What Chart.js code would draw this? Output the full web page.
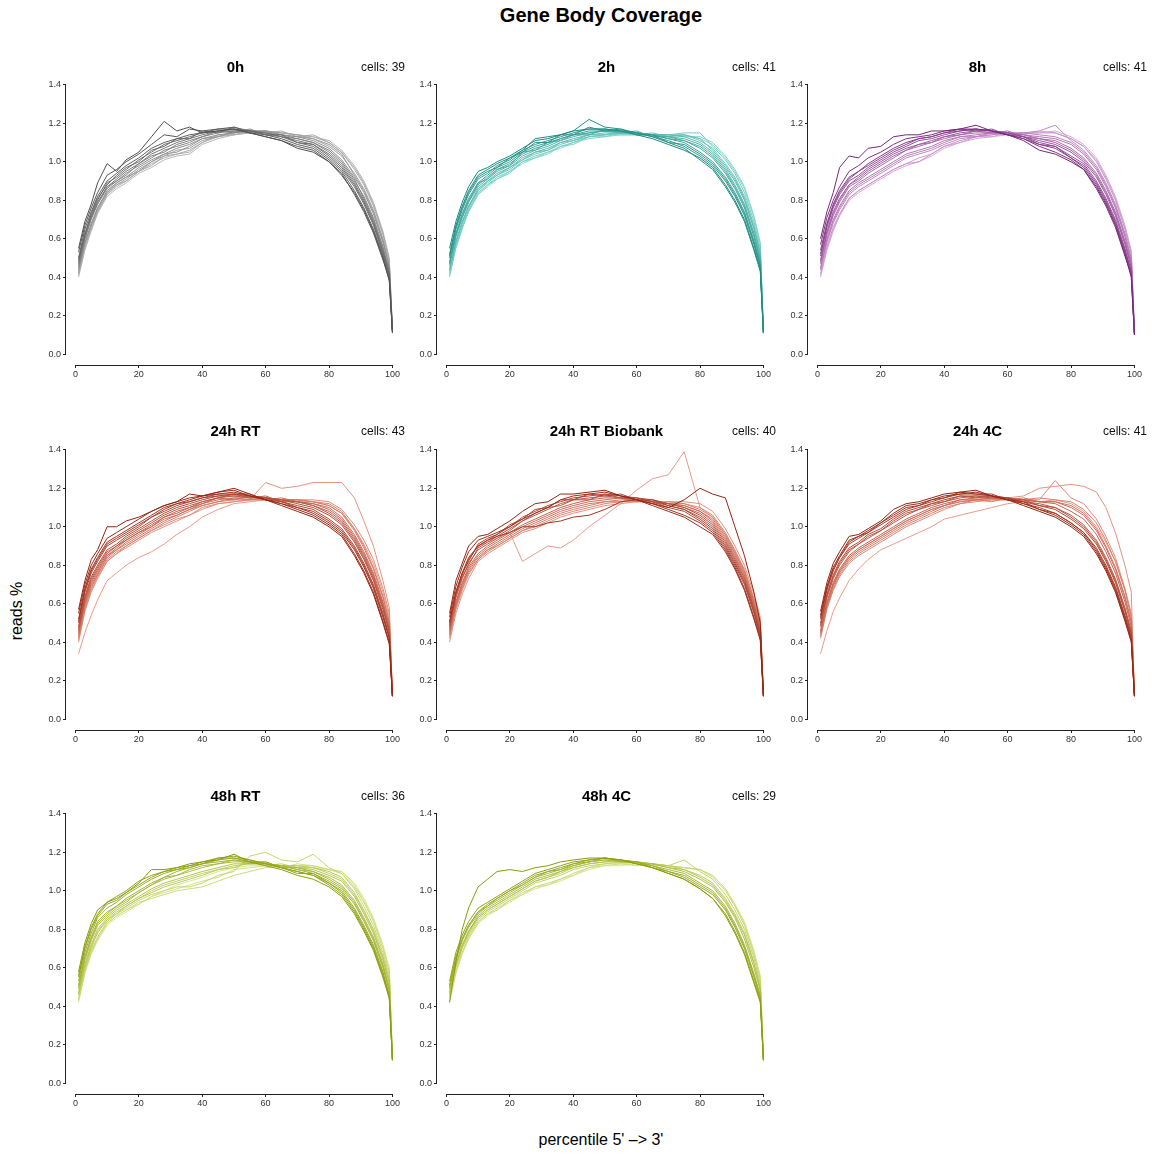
<!DOCTYPE html>
<html><head><meta charset="utf-8">
<script src="https://cdn.jsdelivr.net/npm/chart.js@4.4.0/dist/chart.umd.min.js"></script>
<style>
html,body{margin:0;padding:0;background:#fff;}
#root{position:relative;width:1155px;height:1155px;overflow:hidden;font-family:"Liberation Sans",Arial,Helvetica,sans-serif;}
.t{position:absolute;white-space:nowrap;color:#000;line-height:1;}
canvas{position:absolute;}
</style></head><body><div id="root"></div>
<script>
const percentiles = [1,3,5,7,10,13,16,20,24,28,32,36,40,45,50,55,60,65,70,75,80,84,88,91,94,97,99,100];
const panelNames = ["0h","2h","8h","24h RT","24h RT Biobank","24h 4C","48h RT","48h 4C"];
const cellCounts = [39,41,41,43,40,41,36,29];
const yTickValues = [0,0.2,0.4,0.6,0.8,1.0,1.2,1.4];
const xTickValues = [0,20,40,60,80,100];

const cov0h = [
[0.55,0.69,0.78,0.89,0.99,0.95,1.01,1.05,1.13,1.21,1.16,1.18,1.15,1.16,1.17,1.15,1.13,1.11,1.07,1.05,1.00,0.93,0.84,0.75,0.64,0.50,0.38,0.11],
[0.53,0.67,0.76,0.84,0.93,0.96,1.00,1.04,1.09,1.14,1.13,1.17,1.16,1.17,1.17,1.15,1.13,1.11,1.08,1.06,1.00,0.94,0.83,0.74,0.63,0.49,0.39,0.11],
[0.50,0.65,0.74,0.82,0.90,0.94,0.98,1.02,1.07,1.10,1.12,1.14,1.15,1.17,1.18,1.16,1.14,1.12,1.09,1.07,1.01,0.95,0.85,0.76,0.65,0.51,0.40,0.12],
[0.49,0.62,0.73,0.81,0.88,0.93,0.97,1.00,1.06,1.08,1.12,1.12,1.16,1.15,1.18,1.15,1.14,1.14,1.10,1.09,1.03,0.97,0.88,0.79,0.68,0.53,0.42,0.12],
[0.48,0.63,0.72,0.80,0.89,0.92,0.96,1.01,1.05,1.09,1.11,1.13,1.15,1.16,1.17,1.16,1.15,1.13,1.10,1.08,1.02,0.96,0.87,0.78,0.67,0.52,0.41,0.12],
[0.47,0.61,0.71,0.79,0.87,0.91,0.95,0.99,1.04,1.07,1.10,1.12,1.14,1.16,1.16,1.16,1.15,1.13,1.11,1.09,1.04,0.98,0.89,0.80,0.69,0.54,0.42,0.12],
[0.46,0.60,0.71,0.78,0.87,0.90,0.93,0.99,1.03,1.05,1.09,1.11,1.13,1.16,1.15,1.17,1.14,1.13,1.12,1.10,1.06,1.00,0.91,0.81,0.70,0.55,0.44,0.12],
[0.45,0.60,0.70,0.78,0.86,0.90,0.94,0.98,1.02,1.06,1.08,1.10,1.13,1.15,1.16,1.16,1.15,1.14,1.12,1.10,1.05,0.99,0.90,0.82,0.71,0.56,0.43,0.12],
[0.44,0.58,0.68,0.76,0.85,0.89,0.92,0.97,1.01,1.04,1.07,1.09,1.12,1.14,1.15,1.16,1.16,1.14,1.13,1.11,1.07,1.01,0.92,0.84,0.73,0.58,0.45,0.12],
[0.43,0.58,0.67,0.76,0.84,0.89,0.92,0.95,1.00,1.04,1.05,1.08,1.12,1.13,1.16,1.15,1.16,1.14,1.13,1.12,1.09,1.04,0.93,0.85,0.74,0.59,0.46,0.12],
[0.42,0.57,0.67,0.75,0.84,0.88,0.91,0.96,1.00,1.03,1.06,1.07,1.11,1.13,1.15,1.16,1.16,1.15,1.14,1.12,1.08,1.03,0.94,0.86,0.75,0.60,0.46,0.12],
[0.42,0.56,0.65,0.74,0.83,0.88,0.90,0.95,0.98,1.03,1.04,1.06,1.10,1.14,1.14,1.16,1.15,1.16,1.13,1.14,1.10,1.05,0.97,0.89,0.78,0.63,0.49,0.13],
[0.41,0.55,0.66,0.74,0.83,0.87,0.90,0.95,0.99,1.02,1.04,1.05,1.10,1.13,1.14,1.15,1.16,1.15,1.14,1.13,1.10,1.05,0.96,0.88,0.77,0.62,0.48,0.13],
[0.40,0.54,0.64,0.73,0.82,0.86,0.89,0.94,0.97,1.01,1.03,1.04,1.09,1.12,1.14,1.15,1.15,1.15,1.14,1.13,1.11,1.06,0.98,0.90,0.79,0.64,0.50,0.13]
];
const cov2h = [
[0.55,0.69,0.79,0.87,0.95,0.97,1.00,1.03,1.07,1.11,1.12,1.14,1.16,1.17,1.17,1.16,1.14,1.12,1.09,1.06,1.02,0.97,0.88,0.80,0.70,0.55,0.44,0.11],
[0.52,0.67,0.77,0.85,0.93,0.96,0.99,1.02,1.06,1.12,1.13,1.14,1.16,1.22,1.18,1.17,1.15,1.13,1.10,1.07,1.01,0.96,0.87,0.79,0.69,0.54,0.43,0.11],
[0.51,0.66,0.76,0.84,0.92,0.95,0.97,1.02,1.05,1.10,1.10,1.14,1.14,1.18,1.16,1.17,1.14,1.14,1.10,1.09,1.04,0.99,0.91,0.83,0.73,0.58,0.46,0.11],
[0.50,0.65,0.75,0.83,0.91,0.94,0.98,1.01,1.06,1.09,1.11,1.13,1.15,1.17,1.17,1.16,1.15,1.13,1.11,1.08,1.03,0.98,0.90,0.82,0.72,0.57,0.45,0.11],
[0.48,0.63,0.73,0.81,0.89,0.93,0.97,1.00,1.05,1.08,1.10,1.12,1.14,1.16,1.16,1.16,1.15,1.14,1.12,1.10,1.05,1.00,0.92,0.84,0.74,0.59,0.47,0.11],
[0.47,0.62,0.72,0.80,0.88,0.92,0.96,0.99,1.04,1.07,1.09,1.12,1.14,1.15,1.16,1.16,1.15,1.14,1.12,1.11,1.07,1.02,0.94,0.86,0.76,0.61,0.48,0.11],
[0.47,0.62,0.71,0.79,0.89,0.91,0.96,0.98,1.05,1.06,1.10,1.11,1.14,1.14,1.17,1.15,1.16,1.13,1.13,1.11,1.08,1.03,0.95,0.87,0.77,0.62,0.49,0.11],
[0.46,0.61,0.71,0.79,0.87,0.91,0.95,0.98,1.03,1.06,1.08,1.11,1.13,1.15,1.16,1.15,1.15,1.14,1.13,1.12,1.09,1.04,0.96,0.88,0.78,0.63,0.50,0.11],
[0.44,0.59,0.69,0.77,0.86,0.90,0.94,0.97,1.02,1.05,1.07,1.10,1.12,1.14,1.15,1.15,1.15,1.14,1.14,1.13,1.10,1.05,0.97,0.90,0.80,0.65,0.52,0.12],
[0.44,0.58,0.68,0.77,0.85,0.90,0.93,0.97,1.01,1.05,1.06,1.10,1.11,1.14,1.14,1.16,1.14,1.15,1.13,1.14,1.12,1.06,0.98,0.91,0.81,0.66,0.52,0.12],
[0.43,0.58,0.68,0.76,0.85,0.89,0.93,0.96,1.01,1.04,1.06,1.09,1.11,1.13,1.14,1.15,1.15,1.14,1.14,1.14,1.11,1.07,0.99,0.92,0.82,0.67,0.53,0.12],
[0.42,0.56,0.66,0.75,0.84,0.88,0.92,0.95,1.00,1.03,1.05,1.08,1.10,1.13,1.14,1.14,1.14,1.14,1.14,1.15,1.15,1.08,1.01,0.94,0.84,0.69,0.55,0.12],
[0.41,0.56,0.66,0.74,0.83,0.88,0.91,0.94,1.00,1.02,1.04,1.08,1.09,1.13,1.13,1.15,1.14,1.14,1.14,1.13,1.13,1.10,1.03,0.96,0.87,0.72,0.58,0.12],
[0.40,0.55,0.65,0.74,0.83,0.87,0.91,0.95,0.99,1.02,1.05,1.07,1.10,1.12,1.13,1.14,1.14,1.14,1.13,1.14,1.12,1.09,1.02,0.95,0.86,0.71,0.57,0.12]
];
const cov8h = [
[0.60,0.74,0.84,0.97,1.03,1.02,1.07,1.08,1.13,1.14,1.14,1.16,1.16,1.17,1.19,1.16,1.14,1.11,1.06,1.04,1.00,0.96,0.87,0.78,0.67,0.52,0.40,0.10],
[0.57,0.71,0.80,0.87,0.95,0.98,1.02,1.05,1.09,1.12,1.13,1.14,1.16,1.17,1.17,1.16,1.14,1.12,1.08,1.05,1.01,0.96,0.86,0.77,0.66,0.51,0.41,0.10],
[0.54,0.68,0.78,0.85,0.92,0.95,0.99,1.03,1.07,1.10,1.12,1.13,1.15,1.16,1.17,1.16,1.14,1.12,1.09,1.07,1.02,0.97,0.88,0.79,0.68,0.53,0.42,0.10],
[0.52,0.67,0.77,0.84,0.91,0.95,0.98,1.02,1.06,1.09,1.12,1.13,1.15,1.17,1.16,1.17,1.14,1.13,1.09,1.08,1.02,0.98,0.89,0.80,0.69,0.54,0.43,0.10],
[0.51,0.66,0.76,0.83,0.90,0.93,0.97,1.01,1.05,1.08,1.11,1.12,1.14,1.16,1.17,1.16,1.15,1.13,1.10,1.08,1.03,0.99,0.90,0.81,0.70,0.55,0.43,0.11],
[0.49,0.64,0.74,0.81,0.88,0.92,0.96,1.00,1.04,1.07,1.09,1.11,1.13,1.15,1.16,1.16,1.15,1.13,1.11,1.09,1.05,1.00,0.92,0.83,0.72,0.57,0.45,0.11],
[0.48,0.63,0.73,0.80,0.88,0.91,0.95,0.99,1.03,1.06,1.09,1.10,1.13,1.14,1.16,1.15,1.16,1.13,1.12,1.10,1.06,1.01,0.93,0.84,0.73,0.58,0.46,0.11],
[0.47,0.62,0.72,0.79,0.87,0.90,0.94,0.98,1.02,1.06,1.08,1.10,1.12,1.14,1.15,1.15,1.15,1.14,1.12,1.11,1.07,1.02,0.94,0.85,0.74,0.59,0.47,0.11],
[0.45,0.60,0.70,0.77,0.85,0.89,0.92,0.96,1.00,1.04,1.06,1.08,1.11,1.13,1.14,1.15,1.15,1.14,1.13,1.12,1.09,1.04,0.96,0.87,0.76,0.61,0.48,0.11],
[0.44,0.59,0.69,0.76,0.84,0.88,0.91,0.95,0.99,1.03,1.05,1.07,1.10,1.13,1.13,1.15,1.14,1.15,1.14,1.13,1.10,1.05,0.97,0.88,0.77,0.62,0.49,0.11],
[0.44,0.58,0.68,0.75,0.83,0.87,0.90,0.94,0.98,1.02,1.04,1.06,1.09,1.12,1.13,1.14,1.15,1.15,1.16,1.19,1.11,1.06,0.98,0.89,0.78,0.63,0.50,0.12],
[0.42,0.56,0.66,0.73,0.81,0.85,0.88,0.92,0.96,0.99,1.00,1.04,1.08,1.11,1.13,1.14,1.15,1.15,1.15,1.15,1.12,1.08,1.00,0.91,0.80,0.65,0.52,0.12],
[0.41,0.55,0.65,0.72,0.81,0.85,0.88,0.92,0.96,0.99,1.02,1.04,1.08,1.10,1.13,1.13,1.15,1.14,1.16,1.15,1.12,1.08,1.01,0.92,0.81,0.66,0.53,0.12],
[0.40,0.54,0.64,0.72,0.80,0.84,0.87,0.91,0.95,0.98,1.00,1.03,1.07,1.10,1.12,1.13,1.14,1.15,1.15,1.16,1.13,1.09,1.02,0.93,0.82,0.67,0.54,0.12]
];
const cov24hRT = [
[0.57,0.72,0.83,0.88,1.00,1.00,1.03,1.05,1.08,1.11,1.13,1.17,1.16,1.18,1.20,1.17,1.14,1.11,1.08,1.05,1.00,0.95,0.85,0.76,0.65,0.50,0.39,0.12],
[0.55,0.70,0.80,0.86,0.94,0.97,1.00,1.04,1.08,1.11,1.13,1.15,1.16,1.18,1.19,1.16,1.14,1.12,1.09,1.06,1.01,0.96,0.86,0.77,0.66,0.51,0.40,0.12],
[0.52,0.68,0.78,0.84,0.92,0.95,0.98,1.02,1.06,1.10,1.12,1.14,1.16,1.17,1.18,1.16,1.14,1.12,1.10,1.07,1.02,0.97,0.88,0.79,0.68,0.53,0.42,0.12],
[0.51,0.67,0.77,0.83,0.91,0.94,0.97,1.01,1.05,1.09,1.12,1.13,1.15,1.17,1.17,1.17,1.14,1.13,1.10,1.08,1.03,0.98,0.89,0.80,0.69,0.54,0.43,0.12],
[0.50,0.66,0.76,0.82,0.90,0.93,0.96,1.00,1.05,1.08,1.11,1.13,1.15,1.16,1.17,1.16,1.15,1.13,1.11,1.09,1.04,0.99,0.90,0.81,0.70,0.55,0.43,0.12],
[0.48,0.64,0.74,0.80,0.88,0.91,0.95,0.99,1.03,1.07,1.10,1.12,1.14,1.16,1.16,1.16,1.15,1.14,1.12,1.10,1.06,1.01,0.92,0.83,0.72,0.57,0.45,0.12],
[0.47,0.63,0.73,0.79,0.87,0.90,0.94,0.98,1.02,1.06,1.09,1.11,1.13,1.15,1.17,1.15,1.16,1.13,1.13,1.11,1.07,1.02,0.93,0.84,0.73,0.58,0.46,0.12],
[0.46,0.62,0.72,0.78,0.86,0.90,0.93,0.97,1.01,1.05,1.08,1.10,1.13,1.15,1.16,1.15,1.15,1.14,1.13,1.11,1.08,1.03,0.94,0.85,0.74,0.59,0.47,0.12],
[0.45,0.61,0.71,0.77,0.85,0.89,0.93,0.97,1.00,1.05,1.07,1.10,1.12,1.15,1.14,1.16,1.14,1.15,1.13,1.12,1.09,1.04,0.95,0.86,0.75,0.60,0.48,0.12],
[0.44,0.60,0.70,0.76,0.85,0.88,0.92,0.96,1.00,1.04,1.06,1.09,1.12,1.14,1.15,1.15,1.15,1.14,1.13,1.12,1.10,1.05,0.96,0.87,0.76,0.61,0.49,0.12],
[0.43,0.59,0.69,0.75,0.84,0.88,0.91,0.95,0.99,1.03,1.06,1.09,1.11,1.13,1.15,1.14,1.15,1.14,1.14,1.13,1.11,1.07,0.98,0.89,0.78,0.63,0.50,0.13],
[0.42,0.58,0.68,0.75,0.83,0.87,0.90,0.94,0.98,1.02,1.05,1.08,1.11,1.13,1.14,1.14,1.14,1.14,1.14,1.13,1.12,1.08,0.99,0.90,0.79,0.64,0.51,0.13],
[0.41,0.57,0.67,0.74,0.82,0.86,0.90,0.94,0.98,1.01,1.04,1.06,1.10,1.12,1.13,1.14,1.14,1.14,1.14,1.14,1.13,1.09,1.01,0.93,0.83,0.68,0.55,0.13],
[0.40,0.56,0.66,0.73,0.82,0.86,0.89,0.93,0.97,1.00,1.03,1.06,1.09,1.12,1.13,1.14,1.23,1.20,1.21,1.23,1.23,1.23,1.15,1.03,0.90,0.72,0.58,0.13],
[0.34,0.45,0.54,0.62,0.72,0.76,0.80,0.84,0.87,0.91,0.96,1.00,1.05,1.09,1.12,1.13,1.14,1.14,1.13,1.13,1.11,1.07,0.99,0.91,0.81,0.66,0.53,0.13]
];
const cov24hBiobank = [
[0.55,0.72,0.81,0.90,0.95,0.96,0.99,1.03,1.08,1.12,1.13,1.17,1.17,1.18,1.19,1.16,1.14,1.12,1.10,1.14,1.20,1.17,1.15,1.00,0.85,0.66,0.50,0.12],
[0.53,0.69,0.79,0.87,0.93,0.95,0.97,1.00,1.04,1.07,1.10,1.14,1.16,1.17,1.18,1.16,1.14,1.11,1.08,1.05,1.00,0.96,0.87,0.78,0.67,0.52,0.41,0.12],
[0.51,0.66,0.76,0.84,0.90,0.93,0.95,0.97,1.00,1.00,1.02,1.03,1.05,1.06,1.09,1.13,1.14,1.12,1.09,1.06,1.02,0.97,0.88,0.79,0.68,0.53,0.42,0.12],
[0.50,0.66,0.76,0.82,0.91,0.94,0.96,1.01,1.04,1.09,1.10,1.14,1.14,1.17,1.16,1.17,1.14,1.14,1.11,1.09,1.04,0.99,0.90,0.81,0.71,0.56,0.44,0.12],
[0.49,0.65,0.75,0.83,0.90,0.93,0.96,1.00,1.05,1.08,1.11,1.13,1.15,1.16,1.17,1.16,1.15,1.13,1.10,1.08,1.03,0.98,0.89,0.80,0.70,0.55,0.43,0.12],
[0.48,0.64,0.74,0.80,0.89,0.92,0.95,0.99,1.03,1.07,1.10,1.11,1.14,1.14,1.17,1.15,1.15,1.14,1.12,1.10,1.06,1.01,0.92,0.83,0.73,0.58,0.46,0.12],
[0.47,0.63,0.73,0.81,0.88,0.91,0.94,0.98,1.03,1.06,1.09,1.12,1.14,1.15,1.16,1.15,1.15,1.13,1.11,1.09,1.05,1.00,0.91,0.82,0.72,0.57,0.45,0.12],
[0.46,0.61,0.71,0.79,0.86,0.90,0.93,0.97,1.01,1.04,1.07,1.10,1.12,1.14,1.15,1.15,1.14,1.13,1.12,1.10,1.07,1.02,0.93,0.84,0.74,0.59,0.47,0.12],
[0.45,0.60,0.70,0.78,0.85,0.89,0.92,0.96,1.00,1.03,1.06,1.09,1.11,1.13,1.14,1.15,1.13,1.14,1.12,1.11,1.08,1.03,0.94,0.85,0.75,0.60,0.48,0.12],
[0.44,0.59,0.69,0.77,0.84,0.88,0.91,0.95,0.99,1.02,1.05,1.08,1.10,1.12,1.13,1.14,1.14,1.13,1.12,1.11,1.08,1.04,0.95,0.86,0.76,0.61,0.49,0.12],
[0.43,0.58,0.68,0.76,0.83,0.88,0.90,0.94,0.98,1.01,1.04,1.07,1.09,1.11,1.13,1.13,1.14,1.12,1.13,1.12,1.09,1.05,0.96,0.87,0.77,0.62,0.50,0.13],
[0.42,0.57,0.67,0.75,0.83,0.87,0.90,0.94,0.98,1.00,1.03,1.06,1.08,1.10,1.12,1.13,1.13,1.13,1.12,1.12,1.10,1.06,0.97,0.88,0.78,0.63,0.51,0.13],
[0.40,0.55,0.65,0.73,0.82,0.86,0.89,0.93,0.97,0.99,1.02,1.05,1.07,1.09,1.11,1.12,1.13,1.13,1.13,1.13,1.12,1.08,0.99,0.90,0.80,0.65,0.53,0.13],
[0.50,0.66,0.76,0.83,0.90,0.92,0.94,0.97,0.82,0.86,0.90,0.89,0.93,1.00,1.06,1.12,1.19,1.25,1.27,1.39,1.10,1.05,0.96,0.87,0.77,0.62,0.50,0.13]
];
const cov24h4C = [
[0.56,0.71,0.81,0.87,0.95,0.96,0.99,1.03,1.09,1.12,1.13,1.15,1.17,1.18,1.19,1.16,1.14,1.11,1.08,1.05,1.00,0.95,0.86,0.77,0.66,0.51,0.40,0.12],
[0.54,0.69,0.79,0.85,0.93,0.95,0.98,1.02,1.07,1.11,1.12,1.14,1.16,1.17,1.18,1.16,1.14,1.12,1.09,1.06,1.01,0.96,0.87,0.78,0.67,0.52,0.41,0.12],
[0.53,0.68,0.78,0.84,0.92,0.95,0.97,1.02,1.06,1.10,1.11,1.14,1.15,1.18,1.17,1.17,1.14,1.13,1.09,1.07,1.02,0.97,0.88,0.79,0.68,0.53,0.42,0.12],
[0.52,0.67,0.77,0.84,0.91,0.94,0.97,1.01,1.05,1.09,1.11,1.13,1.15,1.17,1.17,1.16,1.15,1.12,1.10,1.07,1.02,0.97,0.89,0.80,0.69,0.54,0.43,0.12],
[0.50,0.65,0.75,0.82,0.89,0.92,0.96,0.99,1.04,1.08,1.10,1.12,1.14,1.16,1.16,1.16,1.15,1.13,1.11,1.09,1.04,0.99,0.91,0.82,0.71,0.56,0.44,0.12],
[0.49,0.64,0.74,0.81,0.88,0.91,0.95,0.98,1.03,1.07,1.09,1.12,1.13,1.16,1.15,1.16,1.14,1.14,1.11,1.10,1.05,1.00,0.92,0.83,0.72,0.57,0.45,0.12],
[0.48,0.63,0.73,0.80,0.87,0.91,0.94,0.98,1.02,1.06,1.09,1.11,1.13,1.15,1.16,1.15,1.15,1.13,1.12,1.10,1.06,1.01,0.93,0.84,0.73,0.58,0.46,0.12],
[0.46,0.61,0.71,0.78,0.85,0.89,0.92,0.96,1.00,1.04,1.07,1.10,1.12,1.14,1.15,1.15,1.15,1.14,1.13,1.12,1.08,1.04,0.96,0.87,0.76,0.61,0.48,0.12],
[0.45,0.60,0.70,0.77,0.84,0.88,0.91,0.95,0.99,1.03,1.06,1.09,1.11,1.14,1.14,1.15,1.14,1.15,1.13,1.13,1.10,1.06,0.98,0.89,0.78,0.63,0.50,0.13],
[0.44,0.59,0.69,0.76,0.83,0.87,0.90,0.94,0.98,1.02,1.05,1.08,1.11,1.13,1.14,1.14,1.14,1.14,1.13,1.13,1.11,1.07,0.99,0.90,0.79,0.64,0.51,0.13],
[0.43,0.58,0.68,0.75,0.82,0.86,0.89,0.93,0.97,1.01,1.04,1.07,1.10,1.12,1.14,1.13,1.15,1.14,1.15,1.14,1.13,1.09,1.02,0.93,0.82,0.67,0.53,0.13],
[0.42,0.57,0.67,0.74,0.81,0.85,0.88,0.92,0.96,1.00,1.03,1.06,1.09,1.12,1.13,1.14,1.14,1.14,1.14,1.24,1.15,1.12,1.04,0.95,0.84,0.68,0.55,0.13],
[0.45,0.60,0.70,0.77,0.84,0.88,0.91,0.95,0.99,1.03,1.06,1.09,1.11,1.13,1.14,1.15,1.15,1.16,1.20,1.21,1.22,1.21,1.18,1.10,0.97,0.80,0.66,0.13],
[0.34,0.46,0.56,0.63,0.72,0.78,0.83,0.88,0.91,0.94,0.97,1.00,1.04,1.06,1.08,1.10,1.12,1.13,1.13,1.14,1.12,1.08,1.00,0.92,0.82,0.67,0.54,0.13]
];
const cov48hRT = [
[0.58,0.73,0.83,0.90,0.94,0.96,0.99,1.04,1.11,1.11,1.12,1.14,1.15,1.16,1.19,1.15,1.13,1.11,1.08,1.06,1.02,0.97,0.88,0.79,0.69,0.55,0.44,0.12],
[0.56,0.71,0.81,0.88,0.94,0.97,1.00,1.05,1.08,1.10,1.12,1.13,1.15,1.17,1.18,1.16,1.14,1.12,1.10,1.08,1.03,0.98,0.89,0.80,0.70,0.56,0.45,0.12],
[0.55,0.70,0.80,0.87,0.93,0.95,0.99,1.03,1.07,1.10,1.11,1.13,1.14,1.17,1.17,1.15,1.15,1.12,1.09,1.09,1.04,0.99,0.90,0.81,0.71,0.57,0.45,0.12],
[0.53,0.68,0.78,0.86,0.91,0.94,0.98,1.02,1.06,1.09,1.11,1.12,1.14,1.16,1.17,1.16,1.14,1.12,1.10,1.08,1.04,1.00,0.91,0.82,0.72,0.58,0.46,0.12],
[0.51,0.66,0.76,0.84,0.89,0.92,0.96,1.00,1.04,1.07,1.10,1.12,1.14,1.15,1.16,1.15,1.14,1.13,1.11,1.09,1.05,1.01,0.93,0.84,0.74,0.60,0.48,0.12],
[0.50,0.65,0.75,0.83,0.88,0.92,0.95,0.99,1.03,1.07,1.08,1.11,1.13,1.14,1.16,1.14,1.15,1.12,1.12,1.10,1.06,1.02,0.94,0.85,0.75,0.61,0.49,0.12],
[0.49,0.64,0.74,0.82,0.87,0.91,0.94,0.99,1.03,1.06,1.08,1.10,1.12,1.14,1.15,1.15,1.14,1.13,1.11,1.10,1.07,1.03,0.95,0.86,0.76,0.62,0.50,0.12],
[0.47,0.62,0.72,0.80,0.86,0.90,0.93,0.97,1.01,1.04,1.06,1.08,1.10,1.12,1.14,1.14,1.14,1.13,1.12,1.11,1.08,1.05,0.97,0.88,0.78,0.64,0.52,0.12],
[0.46,0.61,0.71,0.78,0.85,0.89,0.92,0.96,0.99,1.02,1.04,1.06,1.08,1.11,1.13,1.14,1.14,1.13,1.13,1.12,1.10,1.07,0.99,0.90,0.80,0.66,0.54,0.13],
[0.46,0.60,0.70,0.79,0.85,0.88,0.92,0.96,1.00,1.03,1.05,1.07,1.09,1.11,1.12,1.15,1.13,1.14,1.12,1.12,1.09,1.06,0.98,0.89,0.79,0.65,0.53,0.13],
[0.44,0.59,0.69,0.76,0.84,0.88,0.91,0.95,0.98,1.00,1.02,1.02,1.04,1.08,1.10,1.18,1.20,1.16,1.15,1.19,1.12,1.09,1.01,0.92,0.82,0.68,0.56,0.13],
[0.43,0.58,0.68,0.75,0.83,0.87,0.90,0.94,0.96,0.98,1.00,1.01,1.02,1.05,1.08,1.10,1.12,1.13,1.13,1.13,1.11,1.09,1.02,0.94,0.84,0.70,0.58,0.13],
[0.43,0.58,0.68,0.75,0.83,0.87,0.90,0.93,0.97,0.99,1.01,1.03,1.05,1.07,1.11,1.12,1.13,1.12,1.14,1.13,1.11,1.10,1.03,0.95,0.85,0.71,0.59,0.13],
[0.42,0.57,0.67,0.74,0.82,0.86,0.89,0.93,0.97,1.00,1.03,1.05,1.07,1.10,1.12,1.13,1.13,1.13,1.13,1.12,1.11,1.10,1.04,0.96,0.86,0.72,0.60,0.13]
];
const cov48h4C = [
[0.42,0.63,0.80,0.91,1.02,1.06,1.10,1.11,1.10,1.12,1.13,1.15,1.16,1.17,1.17,1.16,1.14,1.12,1.09,1.06,1.01,0.96,0.87,0.78,0.67,0.52,0.42,0.12],
[0.53,0.68,0.77,0.84,0.91,0.94,0.97,1.01,1.05,1.09,1.11,1.13,1.15,1.16,1.17,1.16,1.14,1.12,1.09,1.06,1.01,0.96,0.88,0.79,0.68,0.53,0.43,0.12],
[0.51,0.66,0.75,0.82,0.89,0.93,0.96,1.00,1.04,1.08,1.10,1.12,1.14,1.16,1.17,1.16,1.15,1.12,1.10,1.07,1.02,0.98,0.90,0.81,0.70,0.55,0.44,0.12],
[0.50,0.65,0.75,0.82,0.89,0.92,0.96,1.00,1.03,1.07,1.10,1.11,1.14,1.15,1.17,1.15,1.15,1.13,1.10,1.08,1.03,0.99,0.91,0.82,0.71,0.56,0.45,0.12],
[0.49,0.64,0.74,0.81,0.88,0.92,0.95,0.99,1.03,1.07,1.09,1.11,1.13,1.15,1.16,1.16,1.15,1.13,1.11,1.09,1.04,1.00,0.92,0.83,0.72,0.57,0.46,0.12],
[0.47,0.62,0.72,0.79,0.87,0.91,0.94,0.98,1.02,1.06,1.08,1.10,1.13,1.15,1.16,1.15,1.15,1.14,1.12,1.10,1.06,1.02,0.94,0.86,0.75,0.60,0.48,0.12],
[0.47,0.61,0.71,0.79,0.86,0.90,0.93,0.97,1.01,1.05,1.07,1.10,1.12,1.14,1.15,1.16,1.14,1.14,1.12,1.11,1.07,1.03,0.95,0.87,0.77,0.62,0.49,0.12],
[0.46,0.61,0.71,0.78,0.86,0.90,0.93,0.97,1.01,1.05,1.07,1.09,1.12,1.14,1.15,1.15,1.15,1.14,1.13,1.11,1.08,1.04,0.96,0.88,0.78,0.63,0.50,0.12],
[0.45,0.60,0.70,0.77,0.85,0.89,0.92,0.96,1.00,1.04,1.06,1.08,1.11,1.13,1.14,1.15,1.15,1.14,1.13,1.16,1.10,1.06,0.98,0.90,0.80,0.65,0.52,0.12],
[0.44,0.58,0.68,0.76,0.84,0.88,0.91,0.95,0.99,1.02,1.04,1.06,1.09,1.12,1.14,1.14,1.14,1.14,1.13,1.12,1.11,1.07,1.00,0.92,0.82,0.67,0.54,0.13],
[0.43,0.58,0.68,0.75,0.83,0.88,0.90,0.95,0.98,1.02,1.03,1.06,1.08,1.12,1.13,1.14,1.13,1.14,1.13,1.12,1.11,1.08,1.01,0.93,0.83,0.68,0.55,0.13],
[0.42,0.57,0.67,0.75,0.83,0.87,0.90,0.94,0.98,1.01,1.03,1.05,1.08,1.11,1.13,1.13,1.14,1.13,1.13,1.12,1.11,1.08,1.01,0.93,0.84,0.69,0.56,0.13]
];

const panelData = [cov0h, cov2h, cov8h, cov24hRT, cov24hBiobank, cov24h4C, cov48hRT, cov48h4C];
const palettes = [
  ['#505050','#b8b8b8'],
  ['#1b8a80','#86d8ce'],
  ['#78287a','#d9a9d9'],
  ['#952410','#ec9a88'],
  ['#952410','#ec9a88'],
  ['#952410','#ec9a88'],
  ['#8a9c0a','#d8e68c'],
  ['#8a9c0a','#d8e68c']
];
const FONT = '"Liberation Sans", Arial, Helvetica, sans-serif';
const root = document.getElementById('root');

function hex2rgb(h){return [1,3,5].map(i=>parseInt(h.substr(i,2),16));}
function mix(a,b,t){const A=hex2rgb(a),B=hex2rgb(b);return 'rgb('+A.map((v,i)=>Math.round(v+(B[i]-v)*t)).join(',')+')';}

function addText(txt, css){
  const d=document.createElement('div'); d.className='t'; d.textContent=txt;
  Object.assign(d.style, css); root.appendChild(d); return d;
}

const axisLines = {
  id:'axisLines',
  afterDraw(chart){
    const {ctx, chartArea, scales:{x,y}} = chart;
    ctx.save(); ctx.strokeStyle='#222'; ctx.lineWidth=1;
    ctx.beginPath();
    const yb = Math.round(chartArea.bottom)+0.5;
    ctx.moveTo(x.getPixelForValue(xTickValues[0]), yb);
    ctx.lineTo(x.getPixelForValue(xTickValues[xTickValues.length-1]), yb);
    const xl = Math.round(chartArea.left)-0.5;
    ctx.moveTo(xl, y.getPixelForValue(yTickValues[0]));
    ctx.lineTo(xl, y.getPixelForValue(yTickValues[yTickValues.length-1]));
    ctx.stroke(); ctx.restore();
  }
};

const colLeft = [66, 437, 808];
const rowTop = [74, 439, 803];
const PW = 339, PH = 291;
const PADL = 40, PADT = 8, PADR = 8, PADB = 22;

panelData.forEach((lines, k) => {
  const c = k % 3, r = Math.floor(k / 3);
  const PL = colLeft[c], PT = rowTop[r];
  const cv = document.createElement('canvas');
  cv.width = PADL + PW + PADR; cv.height = PADT + PH + PADB;
  cv.style.left = (PL - PADL) + 'px'; cv.style.top = (PT - PADT) + 'px';
  cv.style.width = cv.width + 'px'; cv.style.height = cv.height + 'px';
  root.appendChild(cv);
  const pal = palettes[k];
  const n = lines.length;
  const datasets = lines.map((ys, i) => ({
    data: ys.map((v, j) => ({x: percentiles[j], y: v})),
    borderColor: mix(pal[0], pal[1], n > 1 ? i / (n - 1) : 0),
    borderWidth: 1, pointRadius: 0, fill: false, tension: 0
  }));
  new Chart(cv, {
    type: 'line',
    data: {datasets},
    options: {
      responsive: false, animation: false, events: [],
      devicePixelRatio: 1,
      layout: {padding: {top: PADT, right: PADR, left: 0, bottom: 0}},
      plugins: {legend: {display: false}, tooltip: {enabled: false}},
      scales: {
        x: {
          type: 'linear', min: -2.96, max: 103.96,
          afterFit(s){ s.height = PADB; },
          afterBuildTicks(s){ s.ticks = xTickValues.map(v => ({value: v})); },
          grid: {drawOnChartArea: false, drawTicks: true, tickLength: 3, color: '#222'},
          border: {display: false},
          ticks: {padding: 1, color: '#333', font: {size: 9, family: FONT}, maxRotation: 0, autoSkip: false, callback: v => String(v)}
        },
        y: {
          type: 'linear', min: -0.056, max: 1.456,
          afterFit(s){ s.width = PADL; },
          afterBuildTicks(s){ s.ticks = yTickValues.map(v => ({value: v})); },
          grid: {drawOnChartArea: false, drawTicks: true, tickLength: 3, color: '#222'},
          border: {display: false},
          ticks: {padding: 2, color: '#333', font: {size: 9, family: FONT}, autoSkip: false, callback: v => Number(v).toFixed(1)}
        }
      }
    },
    plugins: [axisLines]
  });
  const titleY = 66.5 + 364.4 * r;
  addText(panelNames[k], {left: (PL) + 'px', width: PW + 'px', textAlign: 'center', top: (titleY - 7.5) + 'px', fontSize: '15px', fontWeight: 'bold', height:'15px'});
  addText('cells: ' + cellCounts[k], {left: (PL + PW - 200) + 'px', width: '200px', textAlign: 'right', top: (titleY - 5.5) + 'px', fontSize: '12px', color: '#111'});
});

addText('Gene Body Coverage', {left: '301px', width: '600px', textAlign: 'center', top: '5px', fontSize: '20px', fontWeight: 'bold'});
addText("percentile 5' \u2013> 3'", {left: '401px', width: '400px', textAlign: 'center', top: '1132px', fontSize: '16px'});
addText('reads %', {left: '17px', top: '611px', fontSize: '16px', transform: 'translate(-50%,-50%) rotate(-90deg)'});
</script>
</body></html>
